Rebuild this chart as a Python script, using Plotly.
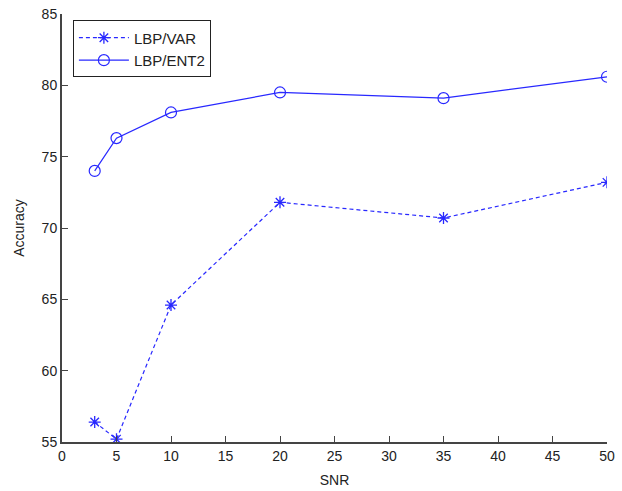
import plotly.graph_objects as go

snr = [3, 5, 10, 20, 35, 50]
lbp_var = [56.4, 55.2, 64.6, 71.8, 70.7, 73.2]
lbp_ent2 = [74.0, 76.3, 78.1, 79.5, 79.1, 80.6]
x_ticks = [0, 5, 10, 15, 20, 25, 30, 35, 40, 45, 50]
y_ticks = [55, 60, 65, 70, 75, 80, 85]

blue = "rgb(40,40,255)"
font_family = "Liberation Sans, Arial"
fig = go.Figure()
fig.add_trace(go.Scatter(
    x=snr, y=lbp_var, name="LBP/VAR", mode="lines+markers",
    line=dict(color=blue, width=1.2, dash="4px,3px"),
    marker=dict(symbol="asterisk", size=10, color=blue, line=dict(color=blue, width=1.3)),
))
fig.add_trace(go.Scatter(
    x=snr, y=lbp_ent2, name="LBP/ENT2", mode="lines+markers",
    line=dict(color=blue, width=1.2),
    marker=dict(symbol="circle-open", size=11, color=blue, line=dict(color=blue, width=1.2)),
))

axis_common = dict(
    showgrid=False, zeroline=False, showline=True, linecolor="#444", linewidth=2,
    ticks="inside", ticklen=6, tickcolor="#444", tickwidth=1,
    tickfont=dict(family=font_family, size=14, color="#222"),
    automargin=False,
)
fig.update_xaxes(range=[0, 50], tickvals=x_ticks,
                 title=dict(text="SNR", font=dict(family=font_family, size=14, color="#222"), standoff=12),
                 **axis_common)
fig.update_yaxes(range=[55, 85], tickvals=y_ticks,
                 title=dict(text="Accuracy", font=dict(family=font_family, size=14, color="#222"), standoff=14),
                 **axis_common)

fig.update_layout(
    width=622, height=491,
    margin=dict(l=62, r=15, t=14, b=49, autoexpand=False),
    plot_bgcolor="white", paper_bgcolor="white",
    showlegend=True,
    legend=dict(x=0.02, y=0.985, xanchor="left", yanchor="top",
                bgcolor="white", bordercolor="#222", borderwidth=1,
                font=dict(family=font_family, size=15, color="#222"),
                itemwidth=50, entrywidth=145, entrywidthmode="pixels",
                tracegroupgap=0),
)
fig.write_html("out.html")
